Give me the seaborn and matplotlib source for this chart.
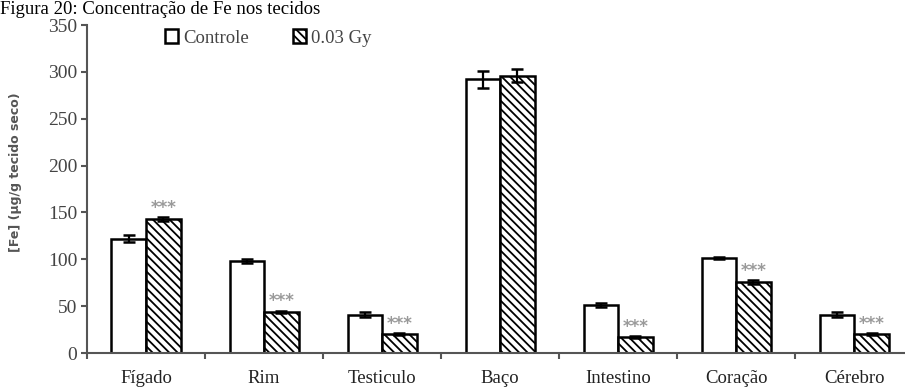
import numpy as np
import pandas as pd
import matplotlib
matplotlib.use("Agg")
import matplotlib.pyplot as plt
from matplotlib.patches import Patch
import seaborn as sns

tecidos = ["Fígado", "Rim", "Testiculo", "Baço", "Intestino", "Coração", "Cérebro"]
grupos = ["Controle", "0.03 Gy"]
controle = [122, 98, 41, 292, 51, 101, 41]
controle_err = [4, 2, 3, 9, 2, 1, 3]
irradiado = [143, 44, 20, 296, 17, 76, 20]
irradiado_err = [2, 1, 1, 7, 1, 2, 1]
signif = ["***", "***", "***", "", "***", "***", "***"]

df = pd.DataFrame({
    "tecido": tecidos * 2,
    "grupo": [grupos[0]] * len(tecidos) + [grupos[1]] * len(tecidos),
    "valor": controle + irradiado,
    "err": controle_err + irradiado_err,
})

sns.set_style("white")
plt.rcParams["font.family"] = ["Liberation Serif", "DejaVu Serif"]
plt.rcParams["hatch.linewidth"] = 1.3

fig = plt.figure(figsize=(9.05, 3.92), dpi=100)
ax = fig.add_axes([87 / 905, 1 - 353 / 392, 1 - 87 / 905, (353 - 25) / 392])

sns.barplot(data=df, x="tecido", y="valor", hue="grupo", order=tecidos,
            hue_order=grupos, palette=["white", "white"], width=0.585, gap=0,
            errorbar=None, edgecolor="black", linewidth=1.8, legend=False, ax=ax)

n = len(tecidos)
for i, p in enumerate(ax.patches[:2 * n]):
    if i >= n:
        p.set_hatch("\\\\\\\\")
    cx = p.get_x() + p.get_width() / 2
    row = df.iloc[i]
    ax.errorbar(cx, row["valor"], yerr=row["err"], color="black", lw=1.6,
                capsize=4.5, capthick=1.8, zorder=5)
    if i >= n and signif[i - n]:
        ax.text(cx, row["valor"] + row["err"] + 10, signif[i - n], ha="center",
                va="center", color="#9a9a9a", fontsize=12, fontweight="bold",
                family="DejaVu Sans")

ax.set_ylim(0, 350)
ax.set_xlim(-0.5, 6.43)
ax.set_yticks(range(0, 351, 50))
ax.set_xticks(np.arange(-0.5, 6.5, 1), minor=False)
ax.set_xticklabels([])
for i, t in enumerate(tecidos):
    ax.text(i, -27, t, ha="center", va="center", fontsize=13.5, color="#222222")
ax.tick_params(axis="y", labelsize=14, colors="#555555", labelcolor="#444444",
               direction="out", length=4, width=1.5, left=True, pad=3)
ax.tick_params(axis="x", direction="out", length=4, width=1.5, colors="#555555",
               bottom=True)
for s in ["top", "right"]:
    ax.spines[s].set_visible(False)
for s in ["left", "bottom"]:
    ax.spines[s].set_color("#555555")
    ax.spines[s].set_linewidth(1.5)
ax.set_xlabel("")
ax.set_ylabel("[Fe] (µg/g tecido seco)", family="DejaVu Sans", fontsize=9,
              fontweight="bold", color="#555555")
ax.yaxis.set_label_coords(-0.08, 0.55)

handles = [Patch(facecolor="white", edgecolor="black", lw=1.8, label=grupos[0]),
           Patch(facecolor="white", edgecolor="black", lw=1.8, hatch="\\\\\\\\", label=grupos[1])]
fig.legend(handles=handles, loc="center left", bbox_to_anchor=(148 / 905, 1 - 38 / 392),
           ncol=2, frameon=False, fontsize=13.5, handlelength=0.7, handleheight=0.7,
           handletextpad=0.3, columnspacing=2.3, labelcolor="#444444")

fig.text(0.0, 1 - 14 / 392, "Figura 20: Concentração de Fe nos tecidos",
         fontsize=13.5, va="baseline", ha="left", color="black")

fig.savefig("out.png", dpi=100)
